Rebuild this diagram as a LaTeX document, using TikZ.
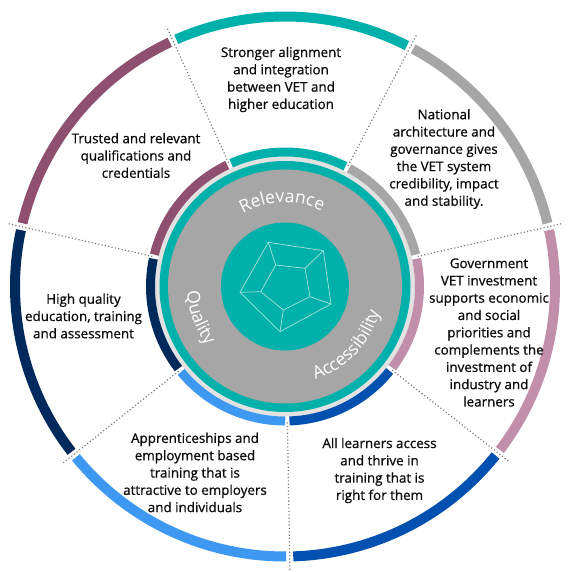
\documentclass[tikz,border=0pt]{standalone}
\usepackage{fontspec}
\setmainfont{Open Sans}
\newfontfamily\lblfont{Open Sans}[FakeBold=0.7]
\usetikzlibrary{decorations.text}
\definecolor{cteal}{RGB}{0,176,170}
\definecolor{cpurple}{RGB}{143,80,111}
\definecolor{cnavy}{RGB}{0,42,92}
\definecolor{clblue}{RGB}{60,152,240}
\definecolor{cblue}{RGB}{2,80,176}
\definecolor{cpink}{RGB}{194,143,170}
\definecolor{cgray}{RGB}{166,166,166}
\definecolor{clight}{RGB}{226,226,226}
\definecolor{cweb}{RGB}{165,226,221}
\definecolor{ctext}{RGB}{10,10,10}
\definecolor{cdot}{RGB}{120,120,120}
\newcommand{\inlbl}{\fontsize{17.5}{17.5}\selectfont}
\tikzset{
  lbl/.style={align=center, inner sep=0pt, text=ctext, font=\lblfont\fontsize{13.4}{17.3}\selectfont},
  divider/.style={cdot, line width=1.2pt, dash pattern=on 1.1pt off 2.3pt},
  web/.style={cweb, line width=0.7pt, line join=round},
  curved/.style={decorate, decoration={text along path, text={|\inlbl|#1}, text align=center, text color=white}}
}
\begin{document}
\begin{tikzpicture}[x=1pt,y=1pt]
\useasboundingbox (-285,-285.5) rectangle (287,286.5);
\fill[white] (-285,-285.5) rectangle (287,286.5);
% central disks
\fill[clight] (0,0) circle[radius=130];
\fill[cteal] (0,0) circle[radius=125.5];
\fill[cgray] (0,0) circle[radius=117];
\fill[cteal] (0,0) circle[radius=64];
% segments
\foreach \a/\b/\c in {271/322/cblue, 322/372.8/cpink, 12.8/62.4/cgray, 62.4/114.5/cteal, 114.5/167.2/cpurple, 167.2/218.5/cnavy, 218.5/271/clblue}{
  \pgfmathsetmacro{\sa}{\a+0.75}
  \pgfmathsetmacro{\eb}{\b-0.75}
  \pgfmathsetmacro{\si}{\a+0.9}
  \pgfmathsetmacro{\ei}{\b-0.9}
  \draw[\c, line width=10pt] (\sa:270) arc[start angle=\sa, end angle=\eb, radius=270];
  \draw[\c, line width=9pt] (\si:134.5) arc[start angle=\si, end angle=\ei, radius=134.5];
}
% dividers
\foreach \t [count=\i] in {271,322,12.8,62.4,114.5,167.2,218.5}{
  \coordinate (d\i i) at (\t:136);
  \coordinate (d\i o) at (\t:284);
  \draw[divider] (d\i i) -- (d\i o);
}
% web icon
\coordinate (o1) at (-16.7,44.2);
\coordinate (o2) at (38.3,35.8);
\coordinate (o3) at (46,-17.5);
\coordinate (o4) at (-5,-45.2);
\coordinate (o5) at (-45,-5.8);
\coordinate (i1) at (-9.3,21.5);
\coordinate (i2) at (20,18.2);
\coordinate (i3) at (25,-10.2);
\coordinate (i4) at (-1.7,-23.5);
\coordinate (i5) at (-24.3,-5.2);
\draw[web] (o1) -- (o2) -- (o3) -- (o4) -- (o5) -- cycle;
\draw[web] (i1) -- (i2) -- (i3) -- (i4) -- (i5) -- cycle;
\foreach \k in {1,...,5}{\draw[web] (o\k) -- (i\k);}
% curved labels
\path[curved=Relevance] (140:84) arc[start angle=140, end angle=44, radius=84];
\path[curved=Quality] (150:98) arc[start angle=150, end angle=250, radius=98];
\path[curved=Accessibility] (266:98) arc[start angle=266, end angle=367, radius=98];
% texts
\node[lbl] (t1) at (-4,207) {Stronger alignment\\and integration\\between VET and\\higher education};
\node[lbl] (t2) at (-149,131) {Trusted and relevant\\qualifications and\\credentials};
\node[lbl] (t3) at (159,127.5) {National\\architecture and\\governance gives\\the VET system\\credibility, impact\\and stability.};
\node[lbl] (t4) at (204,-46) {Government\\VET investment\\supports economic\\and social\\priorities and\\complements the\\investment of\\industry and\\learners};
\node[lbl] (t5) at (94.5,-184) {All learners access\\and thrive in\\training that is\\right for them};
\node[lbl] (t6) at (-90,-186) {Apprenticeships and\\employment based\\training that is\\attractive to employers\\and individuals};
\node[lbl] (t7) at (-201.5,-29.5) {High quality\\education, training\\and assessment};
\end{tikzpicture}
\end{document}
